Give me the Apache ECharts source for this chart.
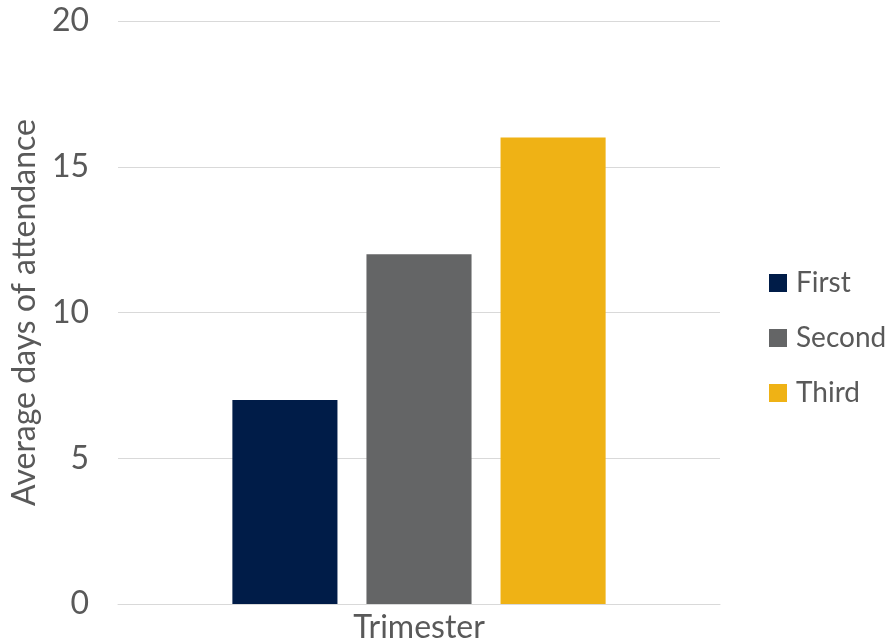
<!DOCTYPE html>
<html>
<head>
<meta charset="utf-8">
<script src="https://cdn.jsdelivr.net/npm/echarts@6/dist/echarts.min.js"></script>
<style>html,body{margin:0;padding:0;background:#fff}#c{width:887px;height:644px}</style>
</head>
<body>
<div id="c"></div>
<script>
var categories = ['Trimester'];
var seriesNames = ['First', 'Second', 'Third'];
var seriesValues = [[7], [12], [16]];
var seriesColors = ['#001c48', '#646566', '#efb215'];
var yTicks = [0, 5, 10, 15, 20];

var font = 'Lato';
var fs = 32;
var chart = echarts.init(document.getElementById('c'), null, {renderer: 'canvas'});
var series = seriesNames.map(function (n, i) {
  return {
    name: n, type: 'bar', data: seriesValues[i],
    itemStyle: {color: seriesColors[i]},
    barGap: '27.6%', barCategoryGap: '38%'
  };
});
chart.setOption({
  animation: false,
  textStyle: {fontFamily: font},
  grid: {left: 118, right: 167, top: 21, bottom: 40, containLabel: false},
  legend: {
    orient: 'vertical', left: 764, top: 264,
    itemWidth: 18, itemHeight: 18, itemGap: 27,
    icon: 'rect',
    textStyle: {fontSize: 28, color: '#595959', fontFamily: font, padding: [0, 0, 0, 4]},
    data: seriesNames
  },
  xAxis: {
    type: 'category', data: categories,
    axisLine: {show: true, lineStyle: {color: '#d9d9d9', width: 1}},
    axisTick: {show: false},
    axisLabel: {fontSize: fs, color: '#595959', margin: 8, fontFamily: font}
  },
  yAxis: {
    type: 'value', min: yTicks[0], max: yTicks[yTicks.length - 1], interval: 5,
    name: 'Average days of attendance', nameLocation: 'middle', nameGap: 70,
    nameTextStyle: {fontSize: fs, color: '#595959', fontFamily: font},
    axisLine: {show: false}, axisTick: {show: false},
    axisLabel: {fontSize: fs, color: '#595959', margin: 29, fontFamily: font},
    splitLine: {lineStyle: {color: '#d9d9d9', width: 1}}
  },
  series: series
});
</script>
</body>
</html>
